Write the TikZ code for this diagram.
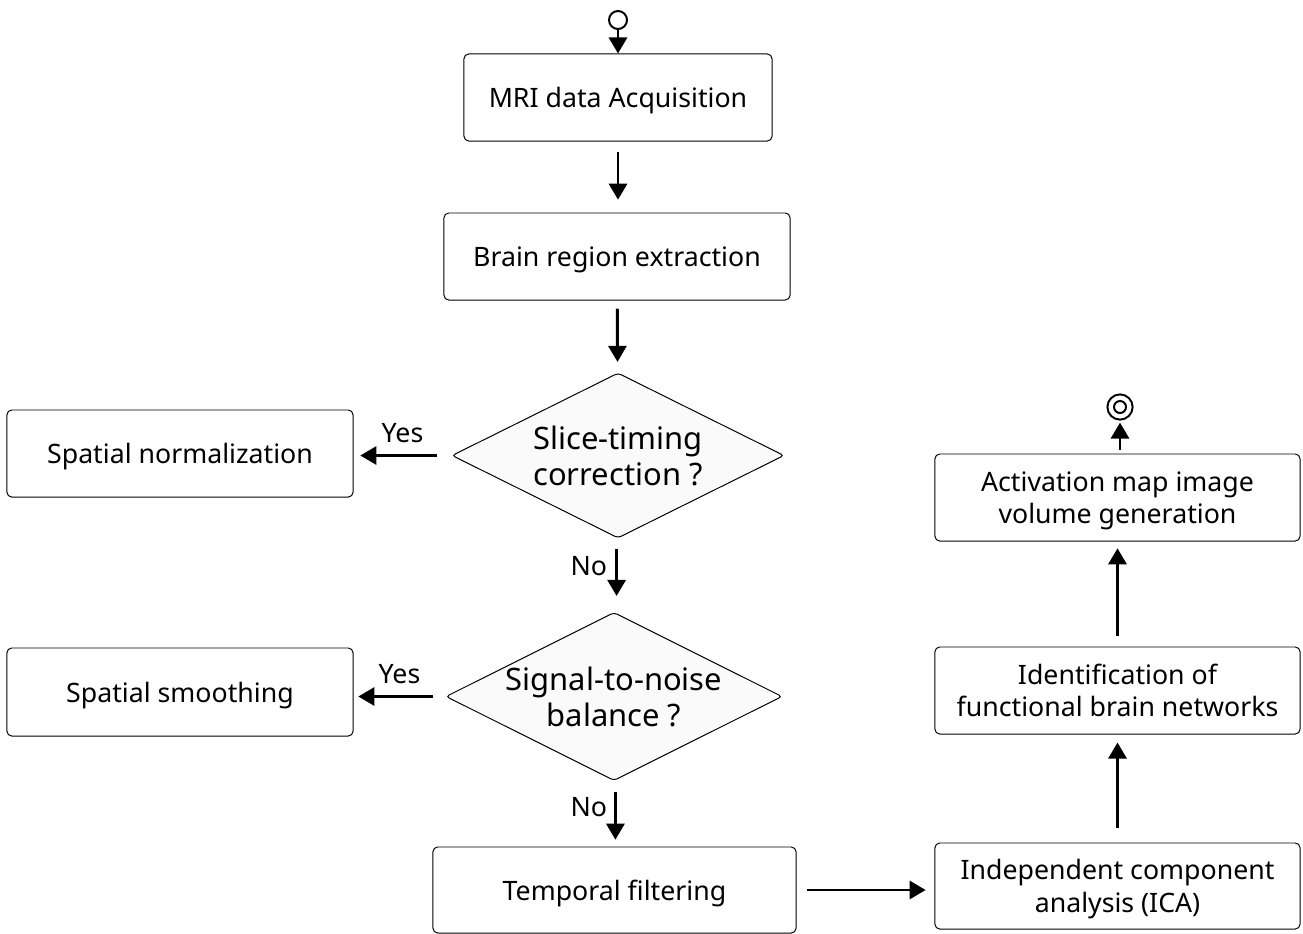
\documentclass[tikz,border=0pt]{standalone}
\usepackage{fontspec}
\setmainfont{Noto Sans}
\usepackage{xcolor}
\usepackage{tikz}
\usetikzlibrary{arrows.meta,positioning,shapes.geometric}
\definecolor{inkline}{HTML}{000000}
\definecolor{decisionbg}{HTML}{FAFAFA}
\tikzset{
  stepbox/.style={draw=inkline,rounded corners=0.12cm,line width=0.7pt,text depth=0pt,
                  align=center,inner sep=0pt,font=\fontsize{19}{23}\selectfont},
  decision/.style={diamond,aspect=2,draw=inkline,fill=decisionbg,rounded corners=0.08cm,
                   line width=0.7pt,minimum width=8.3cm,minimum height=4.125cm,
                   inner sep=0pt,align=center,font=\fontsize{22}{25.6}\selectfont},
  terminal/.style={circle,draw=inkline,line width=1.4pt,inner sep=0pt},
  flow/.style={-{Triangle[length=0.4cm,width=0.45cm]},line width=2.1pt,inkline},
  branch/.style={font=\fontsize{19}{22}\selectfont,inner sep=2pt},
}
\begin{document}
\begin{tikzpicture}[x=0.025cm,y=-0.025cm]
  \useasboundingbox (0,0) rectangle (1303,934);
  % start and end marks
  \node[terminal,minimum size=0.45cm] (start) at (618,20) {};
  \node[terminal,minimum size=0.63cm] (finish) at (1120,407) {};
  \node[terminal,minimum size=0.3cm] (finishdot) at (finish) {};
  % main column
  \node[stepbox,minimum width=7.7cm,minimum height=2.175cm]
    (acq) at (618,97.5) {MRI data Acquisition};
  \node[stepbox,minimum width=8.65cm,minimum height=2.175cm]
    (brain) at (617,256.5) {Brain region extraction};
  \node[decision] (sliceq) at (618,455.5) {Slice-timing\\correction ?};
  \node[decision] (snrq) at (614,696.5) {Signal-to-noise\\balance ?};
  \node[stepbox,minimum width=9.075cm,minimum height=2.15cm]
    (filter) at (614.5,890) {Temporal filtering};
  % left branch
  \node[stepbox,minimum width=8.65cm,minimum height=2.175cm]
    (norm) at (180,453.5) {Spatial normalization};
  \node[stepbox,minimum width=8.65cm,minimum height=2.2cm]
    (smooth) at (180,692) {Spatial smoothing};
  % right column
  \node[stepbox,minimum width=9.125cm,minimum height=2.15cm]
    (ica) at (1117.5,886) {Independent component\\analysis (ICA)};
  \node[stepbox,minimum width=9.125cm,minimum height=2.175cm]
    (networks) at (1117.5,690.5) {Identification of\\functional brain networks};
  \node[stepbox,minimum width=9.125cm,minimum height=2.175cm]
    (activation) at (1117.5,497.5) {Activation map image\\volume generation};
  % connectors
  \draw[flow] (start) -- (acq);
  \draw[flow,shorten <=0.27cm,shorten >=0.32cm] (acq.south) -- (acq.south |- brain.north);
  \draw[flow,shorten <=0.2cm,shorten >=0.27cm] (brain) -- (sliceq);
  \draw[flow,shorten <=0.35cm,shorten >=0.17cm] (sliceq.west)
    -- node[branch,above=0.2cm]{Yes} (sliceq.west -| norm.east);
  \draw[flow,shorten <=0.25cm,shorten >=0.4cm] ([xshift=-1]sliceq.south)
    -- node[branch,left=0.13cm,pos=0.37]{No} ([xshift=-1]sliceq.south |- snrq.north);
  \draw[flow,shorten <=0.3cm,shorten >=0.12cm] (snrq.west)
    -- node[branch,above=0.2cm]{Yes} (snrq.west -| smooth.east);
  \draw[flow,shorten <=0.27cm,shorten >=0.17cm] ([xshift=1]snrq.south)
    -- node[branch,left=0.1cm,pos=0.4]{No} ([xshift=1]snrq.south |- filter.north);
  \draw[flow,shorten <=0.25cm,shorten >=0.22cm] (filter.east) -- (filter.east -| ica.west);
  \draw[flow,shorten <=0.37cm,shorten >=0.2cm] (ica) -- (networks);
  \draw[flow,shorten <=0.27cm,shorten >=0.17cm] (networks) -- (activation);
  \draw[flow,shorten <=0.1cm,shorten >=0.05cm] (finish |- activation.north) -- (finish);
\end{tikzpicture}
\end{document}
